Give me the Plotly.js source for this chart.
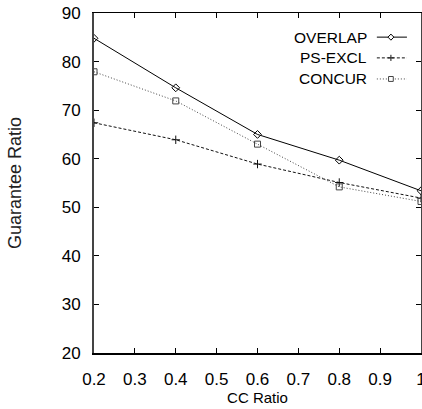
<!DOCTYPE html>
<html>
<head>
<meta charset="utf-8">
<script src="https://cdn.plot.ly/plotly-3.0.1.min.js"></script>
<style>html,body{margin:0;padding:0;background:#fff;}#chart{width:422px;height:409px;}</style>
</head>
<body>
<div id="chart"></div>
<script>
const ccRatio = [0.2, 0.4, 0.6, 0.8, 1.0];
const overlap = [84.8, 74.6, 65.0, 59.7, 53.4];
const psExcl  = [67.4, 63.9, 58.9, 55.1, 51.9];
const concur  = [77.9, 71.9, 63.0, 54.2, 51.2];
const seriesNames = ['OVERLAP', 'PS-EXCL', 'CONCUR'];
const xTicks = [0.2, 0.3, 0.4, 0.5, 0.6, 0.7, 0.8, 0.9, 1];
const xTickText = ['0.2', '0.3', '0.4', '0.5', '0.6', '0.7', '0.8', '0.9', '1'];
const yTicks = [20, 30, 40, 50, 60, 70, 80, 90];

const FONT = '"Liberation Sans Narrow", "Liberation Sans", Arial, sans-serif';

const styles = [
  {color: '#000', dash: 'solid', symbol: 'diamond-open', size: 6},
  {color: '#111', dash: '3px,2px', symbol: 'cross-thin-open', size: 6},
  {color: '#444', dash: '1px,2px', symbol: 'square-open', size: 6}
];
const values = [overlap, psExcl, concur];

const traces = values.map((v, i) => ({
  x: ccRatio, y: v, type: 'scatter', mode: 'lines+markers', name: seriesNames[i],
  line: {color: styles[i].color, width: 1, dash: styles[i].dash},
  marker: {symbol: styles[i].symbol, size: styles[i].size, color: styles[i].color, line: {width: 1, color: styles[i].color}},
  showlegend: false
}));

// manual gnuplot-style legend (text right, sample on right)
const legY = [0.929, 0.868, 0.806];
const annotations = [];
const shapes = [];
const lx0 = 0.865, lx1 = 0.957, mx = 0.908, dx = 0.009, dy = 0.009;
seriesNames.forEach((n, i) => {
  annotations.push({xref: 'paper', yref: 'paper', x: 0.84, y: legY[i], xanchor: 'right', yanchor: 'middle',
    text: n, showarrow: false, font: {family: FONT, size: 15.5, color: '#000'}});
  shapes.push({type: 'line', xref: 'paper', yref: 'paper', x0: lx0, x1: lx1, y0: legY[i], y1: legY[i],
    line: {color: styles[i].color, width: 1, dash: styles[i].dash}});
  const y = legY[i];
  let path;
  if (i === 0) path = `M${mx-dx},${y} L${mx},${y+dy} L${mx+dx},${y} L${mx},${y-dy} Z`;
  else if (i === 1) path = `M${mx-dx},${y} L${mx+dx},${y} M${mx},${y-dy} L${mx},${y+dy}`;
  else path = `M${mx-dx*0.8},${y-dy*0.8} L${mx+dx*0.8},${y-dy*0.8} L${mx+dx*0.8},${y+dy*0.8} L${mx-dx*0.8},${y+dy*0.8} Z`;
  shapes.push({type: 'path', xref: 'paper', yref: 'paper', path: path, fillcolor: 'white',
    line: {color: styles[i].color, width: 1}});
});

const layout = {
  width: 422, height: 409,
  margin: {l: 94, r: 1, t: 13, b: 56, pad: 0},
  paper_bgcolor: '#fff', plot_bgcolor: '#fff',
  font: {family: FONT, size: 17, color: '#000'},
  xaxis: {
    range: [0.2, 1.0], tickvals: xTicks, ticktext: xTickText,
    ticks: 'inside', ticklen: 5, tickcolor: '#000', tickwidth: 1,
    showline: true, linecolor: '#000', linewidth: 1.5, mirror: 'ticks',
    showgrid: false, zeroline: false, ticklabelstandoff: 10,
    ticklabeloverflow: 'allow',
    tickfont: {family: FONT, size: 17},
    title: {text: 'CC Ratio', font: {family: FONT, size: 15}, standoff: 0}
  },
  yaxis: {
    range: [20, 90], tickvals: yTicks,
    ticks: 'inside', ticklen: 5, tickcolor: '#000', tickwidth: 1,
    showline: true, linecolor: '#444', linewidth: 2, mirror: 'ticks',
    showgrid: false, zeroline: false, ticklabelstandoff: 8,
    tickfont: {family: FONT, size: 17},
    title: {text: 'Guarantee Ratio', font: {family: FONT, size: 18, color: '#222'}, standoff: 35}
  },
  annotations: annotations,
  shapes: shapes
};

Plotly.newPlot('chart', traces, layout, {staticPlot: true, displayModeBar: false});
</script>
</body>
</html>
